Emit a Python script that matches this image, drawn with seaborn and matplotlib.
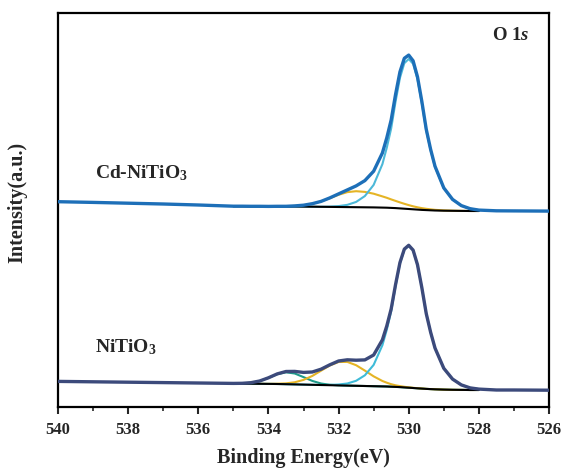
import matplotlib
matplotlib.use("Agg")
import matplotlib.pyplot as plt
from matplotlib.ticker import MultipleLocator
import numpy as np
import pandas as pd
import seaborn as sns

# ---------------- data (intensity in a.u.) ----------------
energy = [526, 526.5, 527, 527.5, 528, 528.25, 528.5, 528.75, 529, 529.25,
          529.375, 529.5, 529.625, 529.75, 529.875, 530, 530.125, 530.25, 530.375, 530.5,
          530.625, 530.75, 531, 531.25, 531.5, 531.75, 532, 532.25, 532.5, 532.75,
          533, 533.25, 533.5, 533.75, 534, 534.25, 534.5, 534.75, 535, 535.5,
          536, 537, 538, 539, 540]

# fitted region (528 - 535 eV) used for components / background
fit_energy = energy[4:39]

# ---- NiTiO3 (lower spectrum) ----
ni_envelope = [16.8, 16.9, 17.0, 17.0, 17.9, 19.1, 22.1, 27.9, 38.7, 58.9,
               74.7, 93.4, 119.2, 142.3, 156.9, 161.7, 157.9, 144.4, 122.5, 98.1,
               81.1, 67.2, 52.0, 47.1, 46.8, 47.2, 46.0, 42.2, 37.8, 35.0,
               34.6, 35.6, 35.5, 33.1, 29.2, 26.0, 24.3, 23.7, 23.6, 23.8,
               24.0, 24.4, 24.8, 25.2, 25.6]
ni_background = [17.0, 17.0, 17.1, 17.2, 17.4, 17.7, 17.9, 18.1, 18.4, 18.7,
                 19.0, 19.3, 19.6, 19.9, 20.1, 20.3, 20.5, 20.6, 20.8, 21.0,
                 21.2, 21.4, 21.6, 21.8, 22.0, 22.2, 22.4, 22.6, 22.8, 23.0,
                 23.1, 23.2, 23.3, 23.4, 23.5]
ni_lattice_O = [0.9, 2.1, 5.0, 10.7, 21.3, 41.2, 56.8, 75.3, 100.8, 123.5,
                137.7, 142.0, 137.7, 123.5, 100.8, 75.3, 56.8, 41.2, 21.3, 10.7,
                5.0, 2.1, 0.9, 0.3, 0, 0, 0, 0, 0, 0,
                0, 0, 0, 0, 0]
ni_vacancy_O = [0, 0, 0, 0, 0, 0, 0, 0.05, 0.1, 0.1,
                0.2, 0.36, 0.6, 1.0, 1.6, 2.5, 3.8, 5.4, 9.85, 15.4,
                20.6, 23.7, 23.4, 19.7, 14.3, 8.85, 4.7, 2.14, 0.84, 0.28,
                0.08, 0, 0, 0, 0]
ni_adsorbed_O = [0, 0, 0, 0, 0, 0, 0, 0, 0, 0,
                 0, 0, 0, 0, 0, 0, 0, 0, 0, 0,
                 0, 0, 0.1, 0.44, 1.5, 3.9, 7.5, 10.9, 11.9, 9.77,
                 6.0, 2.77, 0.96, 0.25, 0.05]

# ---- Cd-NiTiO3 (upper spectrum) ----
cd_envelope = [195.9, 196.0, 196.1, 196.2, 196.9, 198.3, 201.4, 207.6, 219.1, 240.7,
               257.6, 277.7, 305.4, 330.2, 346.2, 351.9, 348.7, 335.1, 312.6, 287.1,
               269.2, 254.1, 235.8, 226.4, 221.1, 217.1, 213.1, 209.1, 205.6, 203.3,
               201.8, 201.1, 200.7, 200.7, 200.6, 200.7, 200.7, 200.8, 200.8, 201.4,
               202.0, 203.0, 203.8, 204.6, 205.3]
cd_background = [196.0, 196.0, 196.1, 196.2, 196.3, 196.5, 196.7, 196.9, 197.1, 197.4,
                 197.7, 198.0, 198.3, 198.6, 198.9, 199.1, 199.3, 199.4, 199.6, 199.7,
                 199.8, 199.9, 200.0, 200.1, 200.2, 200.3, 200.4, 200.5, 200.5, 200.6,
                 200.6, 200.7, 200.7, 200.8, 200.8]
cd_lattice_O = [0.9, 2.25, 5.25, 11.25, 22.5, 43.5, 60.0, 79.5, 106.5, 130.5,
                145.5, 150.0, 145.5, 130.5, 106.5, 79.5, 60.0, 43.5, 22.5, 11.25,
                5.25, 2.25, 0.9, 0.3, 0, 0, 0, 0, 0, 0,
                0, 0, 0, 0, 0]
cd_vacancy_O = [0, 0.02, 0.05, 0.14, 0.31, 0.66, 0.94, 1.3, 1.76, 2.3,
                3.0, 3.9, 4.9, 6.0, 7.2, 8.5, 9.9, 11.2, 13.7, 15.4,
                16.0, 14.96, 12.2, 8.7, 5.4, 2.95, 1.4, 0.58, 0.21, 0.07,
                0.02, 0, 0, 0, 0]

sample_labels = ["Cd-NiTiO$_{\\mathrm{3}}$", "NiTiO$_{\\mathrm{3}}$"]
x_ticks = [540, 538, 536, 534, 532, 530, 528, 526]

# ---------------- styling ----------------
sns.set_style("ticks")
plt.rcParams["font.family"] = ["Liberation Serif", "DejaVu Serif"]
plt.rcParams["font.weight"] = "bold"
plt.rcParams["mathtext.fontset"] = "custom"
plt.rcParams["mathtext.rm"] = "Liberation Serif:bold"
plt.rcParams["mathtext.bf"] = "Liberation Serif:bold"
plt.rcParams["mathtext.it"] = "Liberation Serif:italic:bold"

fig = plt.figure(figsize=(5.66, 4.73), dpi=100)
ax = fig.add_axes([58 / 566, 1 - 407 / 473, (549 - 58) / 566, (407 - 13) / 473])

c_cd_env = "#1d6fb8"
c_cd_lat = "#4cb8d8"
c_yellow = "#e5b425"
c_ni_env = "#3c4a7b"
c_ni_lat = "#3ebbd8"
c_green = "#1f9b8a"

fit = np.array(fit_energy)


def line(x, y, color, lw, z):
    df = pd.DataFrame({"E": x, "I": y})
    sns.lineplot(data=df, x="E", y="I", ax=ax, color=color, linewidth=lw,
                 sort=False, estimator=None, zorder=z)


nb = np.array(ni_background)
cb = np.array(cd_background)

# lower spectrum components
line(fit, nb + np.array(ni_adsorbed_O), c_green, 1.5, 2)
line(fit, nb + np.array(ni_vacancy_O), c_yellow, 1.5, 2)
line(fit, nb + np.array(ni_lattice_O), c_ni_lat, 1.5, 2)
line(fit, nb, "black", 1.5, 3)
line(energy, ni_envelope, c_ni_env, 2.4, 4)

# upper spectrum components
line(fit, cb + np.array(cd_vacancy_O), c_yellow, 1.5, 2)
line(fit, cb + np.array(cd_lattice_O), c_cd_lat, 1.5, 2)
line(fit, cb, "black", 1.5, 3)
line(energy, cd_envelope, c_cd_env, 2.4, 4)

ax.set_xlim(540, 526)
ax.set_ylim(0, 394)
ax.set_xticks(x_ticks)
ax.xaxis.set_minor_locator(MultipleLocator(1))
ax.set_yticks([])
ax.tick_params(axis="x", which="major", direction="out", length=5, width=1.5,
               labelsize=12, pad=6)
ax.tick_params(axis="x", which="minor", direction="out", length=3, width=1.2)
for lab in ax.get_xticklabels():
    lab.set_fontweight("bold")
for s in ax.spines.values():
    s.set_linewidth(1.6)
    s.set_color("black")

ax.set_xlabel("Binding Energy(eV)", fontsize=14.5, fontweight="bold", labelpad=7)
ax.set_ylabel("Intensity(a.u.)", fontsize=14.5, fontweight="bold", labelpad=18)
ax.yaxis.set_label_coords(-0.062, 0.52)

ax.text(538.95, 234, sample_labels[0], fontsize=14, fontweight="bold",
        va="center", ha="left")
ax.text(538.95, 60, sample_labels[1], fontsize=14, fontweight="bold",
        va="center", ha="left")
ax.text(527.62, 372, "O 1$s$", fontsize=13.5, fontweight="bold", va="center", ha="left")

fig.savefig("out.png", dpi=100)
